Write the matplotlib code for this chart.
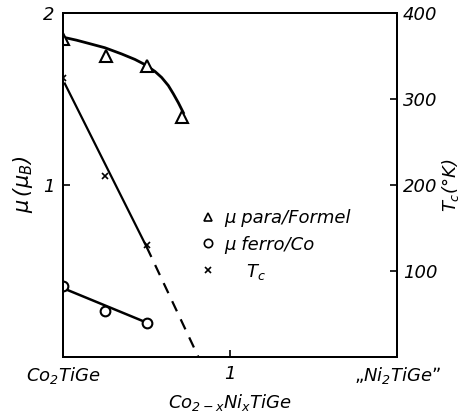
import numpy as np
import matplotlib
matplotlib.use("Agg")
import matplotlib.pyplot as plt
from matplotlib.lines import Line2D

plt.rcParams['font.family'] = 'DejaVu Sans'
plt.rcParams['font.style'] = 'italic'
plt.rcParams['mathtext.fontset'] = 'dejavusans'
plt.rcParams['mathtext.default'] = 'it'

# mu_para / Formel (triangles) and the drawn curve through them
x_para = [0.0, 0.255, 0.505, 0.71]
mu_para = [1.85, 1.75, 1.694, 1.397]
x_para_curve = [0.02, 0.08, 0.15, 0.25, 0.35, 0.43, 0.49, 0.55, 0.59, 0.63, 0.66, 0.69, 0.72]
mu_para_curve = [1.855, 1.842, 1.824, 1.798, 1.762, 1.73, 1.70, 1.66, 1.625, 1.578, 1.53, 1.478, 1.42]

# mu_ferro / Co (circles) and fitted line
x_ferro = [0.0, 0.25, 0.5]
mu_ferro = [0.41, 0.27, 0.20]
x_ferro_line = [0.0, 0.5]
mu_ferro_line = [0.40, 0.20]

# Curie temperature (crosses), solid part and dashed extrapolation
x_tc = [0.0, 0.25, 0.5]
tc = [324, 210, 130]
x_tc_line = [0.01, 0.5]
tc_line = [318, 128]
x_tc_dash = [0.5, 0.81]
tc_dash = [128, 0]

xticks = [0, 1, 2]
xticklabels = ["$Co_2TiGe$", "1", "\u201e$Ni_2TiGe$\u201d"]

fs = 13
fig = plt.figure(figsize=(4.64, 4.19), dpi=100)
ax = fig.add_axes([0.136, 0.148, 0.72, 0.821])
ax2 = ax.twinx()

ax.plot(x_para_curve, mu_para_curve, color='k', lw=2, solid_joinstyle='round')
ax.plot(x_para, mu_para, ls='none', marker='^', ms=8, mfc='white', mec='k', mew=1.5)
ax.plot(x_ferro_line, mu_ferro_line, color='k', lw=1.8)
ax.plot(x_ferro, mu_ferro, ls='none', marker='o', ms=7, mfc='white', mec='k', mew=1.5)

ax2.plot(x_tc_line, tc_line, color='k', lw=1.6)
ax2.plot(x_tc_dash, tc_dash, color='k', lw=1.6, ls=(0, (5, 4)))
ax2.plot(x_tc, tc, ls='none', marker='x', ms=5, mec='k', mew=1.2)

ax.set_xlim(0, 2)
ax.set_ylim(0, 2)
ax2.set_ylim(0, 400)

ax.set_xticks(xticks)
ax.set_xticklabels(xticklabels, fontsize=fs)
ax.set_yticks([1, 2])
ax.set_yticklabels(["1", "2"], fontsize=fs)
ax2.set_yticks([100, 200, 300, 400])
ax2.set_yticklabels(["100", "200", "300", "400"], fontsize=fs)

ax.tick_params(axis='both', direction='in', length=5, width=1.2, pad=6)
ax2.tick_params(axis='y', direction='in', length=5, width=1.2, pad=4)
# end labels have no tick mark of their own
ax.xaxis.get_major_ticks()[0].tick1line.set_visible(False)
ax.xaxis.get_major_ticks()[2].tick1line.set_visible(False)
ax.yaxis.get_major_ticks()[1].tick1line.set_visible(False)
ax2.yaxis.get_major_ticks()[3].tick2line.set_visible(False)

for a in (ax, ax2):
    for s in a.spines.values():
        s.set_linewidth(1.4)

ax.set_xlabel("$Co_{2-x}Ni_xTiGe$", fontsize=fs, labelpad=4)
ax.set_ylabel(r"$\mu\,(\mu_B)$", fontsize=fs + 2, labelpad=6)
ax2.set_ylabel(r"$T_c$(°K)", fontsize=fs, labelpad=2)

handles = [
    Line2D([], [], ls='none', marker='^', ms=6, mfc='white', mec='k', mew=1.2),
    Line2D([], [], ls='none', marker='o', ms=6, mfc='white', mec='k', mew=1.2),
    Line2D([], [], ls='none', marker='x', ms=4, mec='k', mew=1.2),
]
labels = ["\u03bc para/Formel", "\u03bc ferro/Co", "    $T_c$"]
ax.legend(handles, labels, loc='upper left', bbox_to_anchor=(0.38, 0.455),
          frameon=False, fontsize=fs, handlelength=1.0, handletextpad=0.4,
          borderpad=0, labelspacing=0.45)

fig.savefig("out.png", dpi=100)
